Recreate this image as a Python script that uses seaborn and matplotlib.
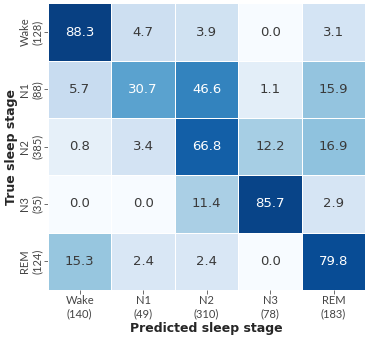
import numpy as np
import pandas as pd
import seaborn as sns
import matplotlib.pyplot as plt
from matplotlib.colors import PowerNorm

stages = ['Wake', 'N1', 'N2', 'N3', 'REM']
true_counts = [128, 88, 385, 35, 124]
pred_counts = [140, 49, 310, 78, 183]

# row-normalised confusion matrix (%)
cm = np.array([
    [88.3, 4.7, 3.9, 0.0, 3.1],
    [5.7, 30.7, 46.6, 1.1, 15.9],
    [0.8, 3.4, 66.8, 12.2, 16.9],
    [0.0, 0.0, 11.4, 85.7, 2.9],
    [15.3, 2.4, 2.4, 0.0, 79.8],
])

xlabels = [f'{s}\n({n})' for s, n in zip(stages, pred_counts)]
ylabels = [f'{s}\n({n})' for s, n in zip(stages, true_counts)]
df = pd.DataFrame(cm, index=ylabels, columns=xlabels)

sns.set_style('ticks')
fig, ax = plt.subplots(figsize=(3.69, 3.43), dpi=100)
sns.heatmap(df, annot=True, fmt='.1f', cmap='Blues', norm=PowerNorm(0.5, vmin=0, vmax=100),
            cbar=False, linewidths=0.7, linecolor='white', ax=ax,
            annot_kws={'fontsize': 9.5})
# lighter gray text on pale cells, like the original
for t in ax.texts:
    if t.get_color() != 'w' and t.get_color() != (1, 1, 1, 1) and t.get_color() != 'white':
        t.set_color('#3a3a3a')
for sp in ax.spines.values():
    sp.set_visible(False)
ax.tick_params(axis='both', length=3, width=0.6, color='#555555', labelcolor='#444444')
for lab in ax.get_xticklabels():
    lab.set_fontfamily('Lato')
    lab.set_fontsize(8)
    lab.set_rotation(0)
for lab in ax.get_yticklabels():
    lab.set_fontfamily('Lato')
    lab.set_fontsize(8)
    lab.set_rotation(90)
    lab.set_va('center')
    lab.set_ha('center')
ax.tick_params(axis='y', pad=9)
ax.tick_params(axis='x', pad=1)
ax.set_xlabel('Predicted sleep stage', fontsize=9, fontweight='bold', labelpad=2)
ax.set_ylabel('True sleep stage', fontsize=9, fontweight='bold', labelpad=1)
plt.subplots_adjust(left=0.13, right=0.99, top=0.99, bottom=0.155)
plt.savefig('out.png', dpi=100)
